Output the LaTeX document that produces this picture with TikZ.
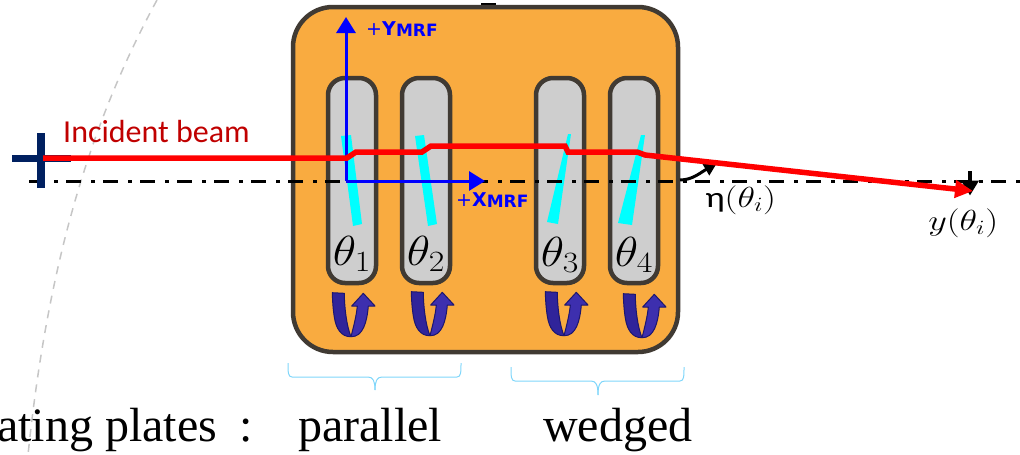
\documentclass[tikz,border=0pt]{standalone}
\usepackage{fix-cm}
\usepackage{amssymb, amsmath}
\usepackage{fontspec}
\setmainfont{Liberation Serif}
\newfontfamily\labelfont{Carlito}
\newfontfamily\axisfont{DejaVu Sans}
\usepackage{tikz}
\usetikzlibrary{arrows.meta}
\definecolor{boxorange}{HTML}{F9AB40}
\definecolor{boxedge}{HTML}{403A33}
\definecolor{plategray}{HTML}{CECECE}
\definecolor{wedgecyan}{HTML}{00FFFF}
\definecolor{crossnavy}{HTML}{002060}
\definecolor{beamlabel}{HTML}{C00000}
\definecolor{bracecyan}{HTML}{7FD6FA}
\definecolor{turnlight}{HTML}{3D2FAE}
\definecolor{turndark}{HTML}{30249A}
\definecolor{turnedge}{HTML}{1C1670}
\tikzstyle{mount} = [rectangle, draw=boxedge, fill=boxorange, line width=4.5pt,
                 rounded corners=40pt, minimum width=385pt, minimum height=345pt, inner sep=0pt]
\tikzstyle{plate} = [rectangle, draw=boxedge, fill=plategray, line width=4.5pt,
                 rounded corners=17pt, minimum width=48pt, minimum height=205pt, inner sep=0pt]
\tikzset{
	axisline/.style={blue, line width=3pt, -{Triangle[length=16pt, width=19pt]}},
	axislabel/.style={text=blue, anchor=base west, inner sep=0pt, font=\axisfont},
	beam/.style={red, line width=5.5pt, line join=miter},
	centreline/.style={line width=3pt, dash pattern=on 15pt off 10pt on 4pt off 8pt},
	wedgeplate/.style={fill=wedgecyan, draw=none},
	bracket/.style={bracecyan, line width=1pt},
	bigtext/.style={anchor=base west, inner sep=0pt, font=\fontsize{48}{50}\selectfont},
	thetalabel/.style={anchor=base, inner sep=0pt, xscale=1.15, transform shape, font=\fontsize{42}{44}\selectfont},
	smalllabel/.style={anchor=base west, inner sep=0pt, xscale=1.25, transform shape, font=\fontsize{29}{31}\selectfont},
}

\begin{document}
\begin{tikzpicture}[x=1pt, y=-1pt]
\useasboundingbox (0,0) rectangle (1020,455);

%detector circle
\draw [gray!45, line width=1.5pt, dash pattern=on 8pt off 7pt]
	(157,0) .. controls (100,105) and (50,240) .. (28,455);

\fill (481,3) rectangle (496,8);
\node [mount] (mount) at (485.5,179.5) {};

\foreach \x/\name in {352/plate1, 426/plate2, 560/plate3, 634/plate4}
	\node [plate] (\name) at (\x,180.5) {};

%wedges
\fill [wedgeplate] (341,136) -- (351,135) -- (362,224) -- (353,226) -- cycle;
\fill [wedgeplate] (415,136) -- (424,135) -- (437,224) -- (428,226) -- cycle;
\fill [wedgeplate] (568,134) -- (571,134) -- (558,224) -- (547,222) -- cycle;
\fill [wedgeplate] (641,135) -- (645,135) -- (632,225) -- (618,223) -- cycle;

\foreach \x/\y/\i/\name in {352/265/1/th1, 426/265/2/th2, 560/266/3/th3, 634/266/4/th4}
	\node [thetalabel] (\name) at (\x,\y) {$\theta_{\i}$};

%rotation arrows
\foreach \x/\y in {0/0, 79/-1, 213/-1, 291/1} {
	\begin{scope}[shift={(\x,\y)}, draw=turnedge, line width=1pt, line join=round]
	\filldraw [fill=turndark] (332.3,292.7) -- (344.3,293.3)
		.. controls (344.5,310) and (347,327) .. (351,336.7)
		.. controls (341,337) and (336,328) .. (334.5,318)
		.. controls (333,310) and (332.5,300) .. (332.3,292.7) -- cycle;
	\filldraw [fill=turnlight] (351,336.7) .. controls (354,325) and (356.5,315) .. (357.3,306)
		-- (351.7,306) -- (363.3,293.3) -- (375,306) -- (368.3,306)
		.. controls (367,322) and (363,337) .. (351,336.7) -- cycle;
	\end{scope}
}

%centre line
\coordinate (lineA) at (29,181);
\coordinate (lineB) at (1020,181);
\draw [centreline] (lineA) -- (lineB);

%cross
\coordinate (crossW) at (12,158.5);
\coordinate (crossE) at (71,158.5);
\coordinate (crossN) at (41,133);
\coordinate (crossS) at (41,188);
\draw [crossnavy, line width=7pt] (crossW) -- (crossE);
\draw [crossnavy, line width=7.5pt] (crossN) -- (crossS);

%frame
\coordinate (origin) at (346,181);
\coordinate (ytip) at (346,17);
\coordinate (xtip) at (485,181);
\draw [axisline] (origin) -- (ytip);
\draw [axisline] (origin) -- (xtip);
\node [axislabel] (ylabel) at (366,35) {\fontsize{19}{20}\selectfont +\textbf{Y}\fontsize{17}{18}\selectfont\textbf{\raisebox{-1.5pt}{MRF}}};
\node [axislabel] (xlabel) at (456,206) {\fontsize{19}{20}\selectfont +\textbf{X}\fontsize{17}{18}\selectfont\textbf{\raisebox{-1.5pt}{MRF}}};

%deviation marks
\coordinate (ymarkA) at (970,171);
\coordinate (ymarkB) at (970,195.5);
\draw [line width=4pt, -{Triangle[length=15pt, width=17pt]}] (ymarkA) -- (ymarkB);
\coordinate (etaA) at (680,180);
\coordinate (etaB) at (717,163);
\draw [line width=3pt, -{Triangle[length=13pt, width=13pt]}]
	(etaA) .. controls (692,180) and (700,173) .. (etaB);

%beam
\coordinate (b0) at (43,158);
\coordinate (b1) at (347,158);
\coordinate (b2) at (356,152);
\coordinate (b3) at (422,152);
\coordinate (b4) at (431,146);
\coordinate (b5) at (565,146);
\coordinate (b6) at (568,152);
\coordinate (b7) at (637,152);
\coordinate (b8) at (645,155);
\coordinate (b9) at (973,191);
\draw [beam, -{Triangle[length=18pt, width=17pt]}]
	(b0) -- (b1) -- (b2) -- (b3) -- (b4) -- (b5) -- (b6) -- (b7) -- (b8) -- (b9);

\node [anchor=base west, inner sep=0pt, text=beamlabel, font=\labelfont\fontsize{32}{34}\selectfont]
	(incident) at (63,142) {Incident beam};
\node [smalllabel] (etalabel) at (705,207) {{\labelfont η}$(\theta_i)$};
\node [smalllabel] (ylabel2) at (928,230) {$y(\theta_i)$};

%braces
\draw [bracket] (288,363) .. controls (288,372) and (288,377) .. (292,377) -- (368,377)
	.. controls (373,377) and (375,381) .. (375,390);
\draw [bracket] (375,390) .. controls (375,381) and (377,377) .. (382,377) -- (457,377)
	.. controls (461,377) and (461,372) .. (461,363);
\draw [bracket] (511,367) .. controls (511,376) and (511,381) .. (515,381) -- (591,381)
	.. controls (596,381) and (598,385) .. (598,395);
\draw [bracket] (598,395) .. controls (598,385) and (600,381) .. (605,381) -- (680,381)
	.. controls (684,381) and (684,376) .. (684,367);

\node [bigtext] (rotating) at (-3,441) {ating plates};
\node [bigtext] (colon) at (239,441) {:};
\node [bigtext] (parallel) at (298,441) {parallel};
\node [bigtext] (wedged) at (543,441) {wedged};

\end{tikzpicture}
\end{document}
